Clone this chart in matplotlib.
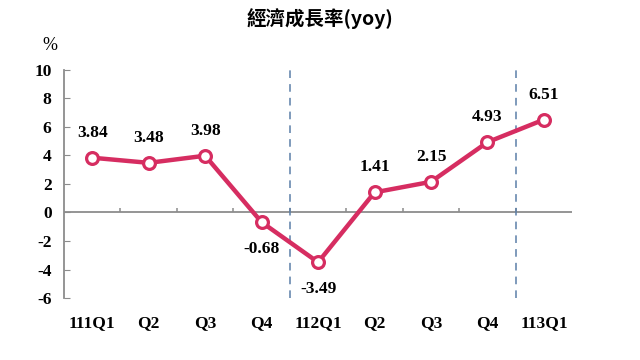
import matplotlib.pyplot as plt
import numpy as np

# Data
quarters = ["111Q1", "Q2", "Q3", "Q4", "112Q1", "Q2", "Q3", "Q4", "113Q1"]
growth = [3.84, 3.48, 3.98, -0.68, -3.49, 1.41, 2.15, 4.93, 6.51]
yticks = [-6, -4, -2, 0, 2, 4, 6, 8, 10]
year_breaks = [3.5, 7.5]

line_color = "#D62D61"
axis_color = "#8C8C8C"
serif = ["Liberation Serif", "DejaVu Serif"]

fig = plt.figure(figsize=(6.4, 3.6), dpi=100)
ax = fig.add_axes([0.1, 0.172, 0.794, 0.634])

x = np.arange(len(quarters))

# zero line and boundary ticks on it
ax.axhline(0, color=axis_color, linewidth=1.3, zorder=1)
ax.vlines(x[:-1] + 0.5, 0, 0.3, color=axis_color, linewidth=1.1, zorder=1)

# year separators
for b in year_breaks:
    ax.axvline(b, color="#5B7FA8", linestyle=(0, (5, 4)), linewidth=1.1, zorder=1)

ax.plot(x, growth, color=line_color, linewidth=3.2, marker="o", markersize=8.5,
        markerfacecolor="white", markeredgecolor=line_color, markeredgewidth=2.3,
        zorder=3)

# value labels
for xi, v in zip(x, growth):
    if v >= 0:
        ax.text(xi, v + 1.75, f"{v:.2f}", ha="center", va="center",
                family=serif, fontweight="bold", fontsize=12.5)
    else:
        ax.text(xi, v - 1.9, f"{v:.2f}", ha="center", va="center",
                family=serif, fontweight="bold", fontsize=12.5)

ax.set_xlim(-0.5, 8.5)
ax.set_ylim(-6, 10)
ax.set_yticks(yticks)
ax.set_yticklabels([str(t) for t in yticks], family=serif, fontweight="bold", fontsize=12.5)
ax.tick_params(axis="y", direction="in", length=4, color=axis_color, pad=9)

ax.set_xticks(x)
ax.set_xticklabels(quarters, family=serif, fontweight="bold", fontsize=12.5)
ax.tick_params(axis="x", length=0, pad=12)

for s in ["top", "right", "bottom"]:
    ax.spines[s].set_visible(False)
ax.spines["left"].set_color(axis_color)
ax.spines["left"].set_linewidth(1.3)

fig.text(0.5, 0.948, "經濟成長率(yoy)", ha="center", va="center",
         family=["Noto Sans CJK TC", "DejaVu Sans"], fontweight="bold", fontsize=14)
fig.text(0.078, 0.875, "%", ha="center", va="center", family=serif, fontsize=13)

fig.savefig("out.png", dpi=100)
